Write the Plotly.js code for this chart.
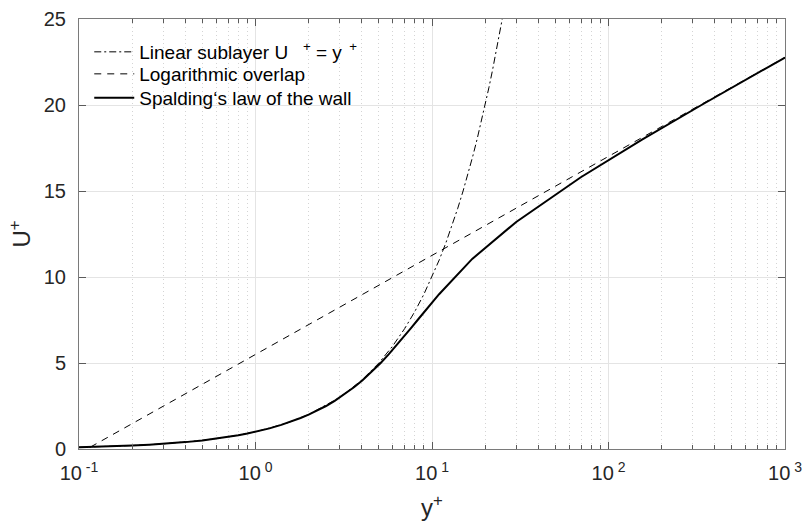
<!DOCTYPE html>
<html>
<head>
<meta charset="utf-8">
<script src="https://cdn.plot.ly/plotly-3.0.1.min.js"></script>
<style>html,body{margin:0;padding:0;background:#fff;}#chart{width:803px;height:525px;}</style>
</head>
<body>
<div id="chart"></div>
<script>
// Linear sublayer U+ = y+
var linearY = [0.1, 0.15, 0.2, 0.3, 0.5, 0.7, 1, 1.5, 2, 3, 4, 5, 6, 7, 8, 9, 10, 11, 12, 13, 14, 15, 16, 17, 18, 19, 20, 21, 22, 23, 24, 25];
var linearU = [0.1, 0.15, 0.2, 0.3, 0.5, 0.7, 1, 1.5, 2, 3, 4, 5, 6, 7, 8, 9, 10, 11, 12, 13, 14, 15, 16, 17, 18, 19, 20, 21, 22, 23, 24, 25];

// Logarithmic overlap
var logY = [0.1, 1000];
var logU = [-0.26, 22.77];

// Spalding's law of the wall
var spaldingY = [0.1, 0.12, 0.15, 0.2, 0.25, 0.3, 0.4, 0.5, 0.6, 0.7, 0.8, 0.9, 1.0, 1.2, 1.4, 1.6, 1.8, 2.0, 2.25, 2.51, 2.81, 3.22, 3.63, 4.04, 4.57, 5.12, 5.68, 6.27, 6.89, 7.56, 8.29, 10.97, 16.9, 30.0, 69.7, 155.7, 336.3, 1000];
var spaldingU = [0.1, 0.12, 0.15, 0.2, 0.25, 0.3, 0.4, 0.5, 0.6, 0.7, 0.8, 0.9, 1.0, 1.2, 1.4, 1.6, 1.8, 2.0, 2.25, 2.5, 2.8, 3.2, 3.6, 4.0, 4.5, 5.0, 5.5, 6.0, 6.5, 7.0, 7.5, 9.0, 11.05, 13.2, 15.8, 18.0, 20.0, 22.76];

var xTickVals = [0.1, 1, 10, 100, 1000];
var xTickText = ['10<sup>\u00a0-1</sup>', '10<sup>\u00a00</sup>', '10<sup>\u00a01</sup>', '10<sup>\u00a02</sup>', '10<sup>\u00a03</sup>'];
var xMinorVals = [0.2, 0.3, 0.4, 0.5, 0.6, 0.7, 0.8, 0.9, 2, 3, 4, 5, 6, 7, 8, 9, 20, 30, 40, 50, 60, 70, 80, 90, 200, 300, 400, 500, 600, 700, 800, 900];

var legendLinear = 'Linear sublayer U<sup>\u00a0\u00a0\u00a0\u00a0+</sup>\u00a0= y<sup>\u00a0\u00a0+</sup>';
var legendLog = 'Logarithmic overlap';
var legendSpalding = 'Spalding\u2018s law of the wall';

var traces = [
  {x: linearY, y: linearU, mode: 'lines', name: legendLinear, legend: 'legend',
   line: {color: '#000', width: 1, dash: '7px,3px,2px,3px'}},
  {x: logY, y: logU, mode: 'lines', name: legendLog, legend: 'legend2',
   line: {color: '#000', width: 1, dash: '7px,6px'}},
  {x: spaldingY, y: spaldingU, mode: 'lines', name: legendSpalding, legend: 'legend3',
   line: {color: '#000', width: 2}}
];

var axisCommon = {
  showline: true, linecolor: '#7a7a7a', linewidth: 1,
  ticks: 'inside', tickcolor: '#5a5a5a', tickwidth: 1, ticklen: 7,
  mirror: 'ticks', zeroline: false,
  gridcolor: '#e4e4e4', gridwidth: 1,
  tickfont: {size: 20, color: '#262626'}
};

function legendAt(yPaper) {
  return {x: 0.0145, y: yPaper, xanchor: 'left', yanchor: 'middle',
          bgcolor: 'rgba(255,255,255,0)', borderwidth: 0, itemwidth: 40,
          font: {size: 19, color: '#000'}};
}

var layout = {
  width: 803, height: 525,
  margin: {l: 79, r: 18, t: 19, b: 76},
  paper_bgcolor: '#fff', plot_bgcolor: '#fff',
  font: {family: '"Liberation Sans", Arial, sans-serif', color: '#262626'},
  showlegend: true,
  legend: legendAt(0.9233),
  legend2: legendAt(0.8721),
  legend3: legendAt(0.8163),
  xaxis: Object.assign({}, axisCommon, {
    type: 'log', range: [-1, 3], tickmode: 'array',
    tickvals: xTickVals, ticktext: xTickText,
    ticklabelstandoff: 6,
    minor: {tickmode: 'array', tickvals: xMinorVals, ticks: 'inside', ticklen: 4,
            tickcolor: '#5a5a5a', showgrid: true, gridcolor: '#d4d4d4', griddash: '1px,3px', gridwidth: 1},
    title: {text: 'y<sup>+</sup>', font: {size: 24, color: '#262626'}, standoff: 16}
  }),
  yaxis: Object.assign({}, axisCommon, {
    range: [0, 25], tickmode: 'linear', tick0: 0, dtick: 5,
    ticklabelstandoff: 8,
    title: {text: 'U<sup>+</sup>', font: {size: 24, color: '#262626'}, standoff: 6}
  })
};

Plotly.newPlot('chart', traces, layout, {displayModeBar: false, staticPlot: true});
</script>
</body>
</html>
